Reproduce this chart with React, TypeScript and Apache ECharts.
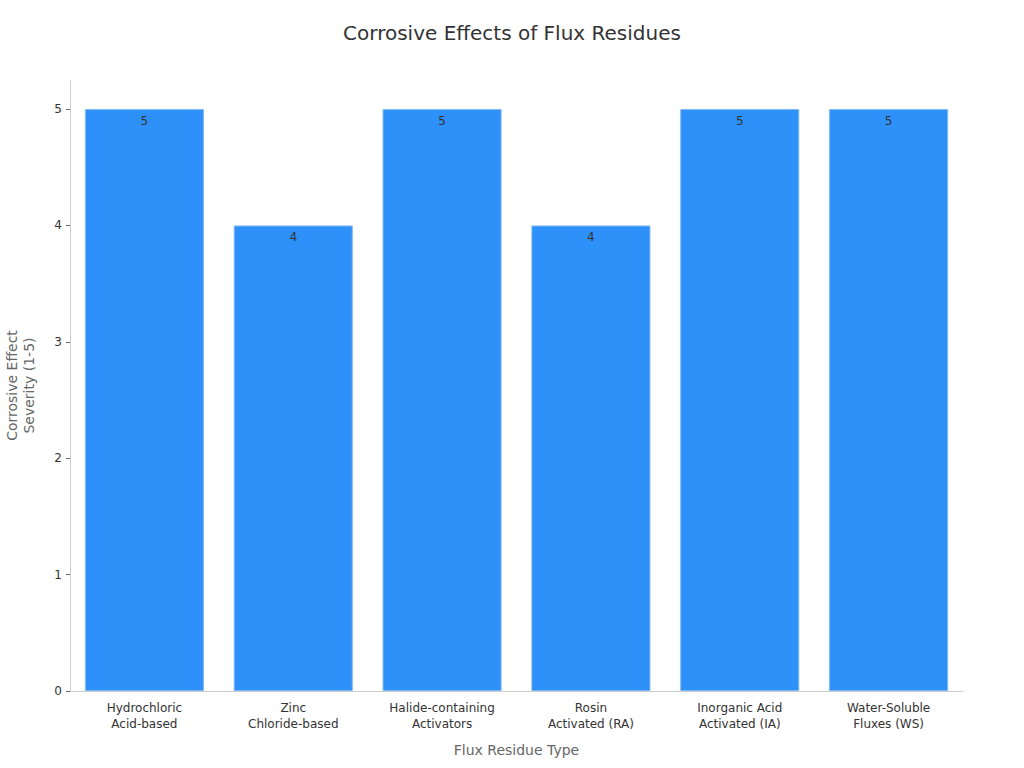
import { useEffect, useRef } from "react";
import * as echarts from "echarts";

const categories = [
  "Hydrochloric\nAcid-based",
  "Zinc\nChloride-based",
  "Halide-containing\nActivators",
  "Rosin\nActivated (RA)",
  "Inorganic Acid\nActivated (IA)",
  "Water-Soluble\nFluxes (WS)",
];
const severity = [5, 4, 5, 4, 5, 5];
const yTicks = [0, 1, 2, 3, 4, 5];

const font = "DejaVu Sans";

export default function App() {
  const chartRef = useRef<HTMLDivElement>(null);

  useEffect(() => {
    if (!chartRef.current) return;
    const chart = echarts.init(chartRef.current, null, { renderer: "svg" });

    chart.setOption({
      animation: false,
      backgroundColor: "#fff",
      textStyle: { fontFamily: font },
      title: {
        text: "Corrosive Effects of Flux Residues",
        left: "center",
        top: 18,
        textStyle: { fontFamily: font, fontSize: 20, fontWeight: "normal", color: "#333" },
      },
      grid: { left: 70, right: 61, top: 80, bottom: 77, outerBoundsMode: "none" },
      xAxis: {
        type: "category",
        data: categories,
        name: "Flux Residue Type",
        nameLocation: "middle",
        nameGap: 52,
        nameTextStyle: { fontFamily: font, fontSize: 14, color: "#666" },
        axisLine: { lineStyle: { color: "#ccc" } },
        axisTick: { alignWithLabel: true, length: 4, lineStyle: { color: "#666" } },
        axisLabel: { fontFamily: font, fontSize: 12, color: "#333", lineHeight: 16, margin: 9 },
      },
      yAxis: {
        type: "value",
        min: 0,
        max: 5.25,
        name: "Corrosive Effect\nSeverity (1-5)",
        nameLocation: "middle",
        nameGap: 33,
        nameTextStyle: { fontFamily: font, fontSize: 14, color: "#666", lineHeight: 17 },
        axisLine: { show: true, lineStyle: { color: "#ccc" } },
        axisTick: { show: true, length: 4, customValues: yTicks, lineStyle: { color: "#666" } },
        axisLabel: { fontFamily: font, fontSize: 12, color: "#333", margin: 8, customValues: yTicks },
        splitLine: { show: false },
      },
      series: [
        {
          type: "bar",
          data: severity,
          barWidth: "80%",
          itemStyle: { color: "#2E91F9", borderColor: "#7DB8F5", borderWidth: 1 },
          label: {
            show: true,
            position: "insideTop",
            distance: 6,
            fontFamily: font,
            fontSize: 12,
            color: "#333",
          },
        },
      ],
    });

    return () => chart.dispose();
  }, []);

  return (
    <div
      ref={chartRef}
      style={{ position: "absolute", left: 0, top: 0, width: 1024, height: 768 }}
    />
  );
}
